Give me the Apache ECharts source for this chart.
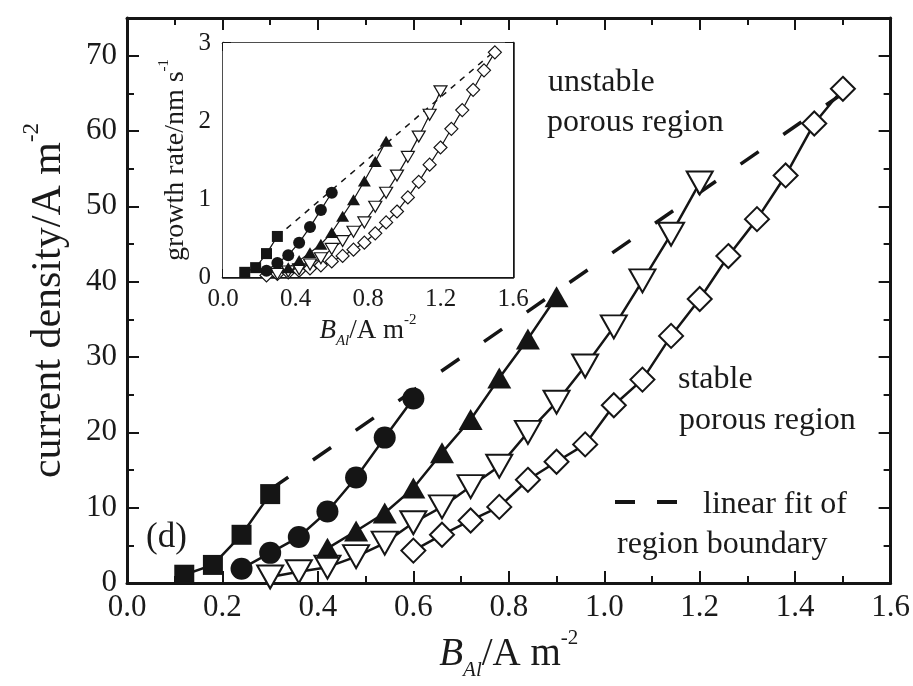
<!DOCTYPE html>
<html>
<head>
<meta charset="utf-8">
<title>current density vs B_Al</title>
<script src="https://cdn.jsdelivr.net/npm/echarts@6/dist/echarts.min.js"></script>
<style>
  html, body { margin: 0; padding: 0; background: #fff; }
  #chart { width: 913px; height: 686px; }
</style>
</head>
<body>
<div id="chart"></div>
<script>
// main panel: B_Al (A m^-2) vs current density (A m^-2)
const squareX = [0.12, 0.18, 0.24, 0.30];
const squareY = [1.1, 2.4, 6.4, 11.8];
const circleX = [0.24, 0.30, 0.36, 0.42, 0.48, 0.54, 0.60];
const circleY = [1.9, 4.0, 6.1, 9.5, 14.0, 19.3, 24.5];
const triUpX = [0.42, 0.48, 0.54, 0.60, 0.66, 0.72, 0.78, 0.84, 0.90];
const triUpY = [4.6, 6.9, 9.3, 12.6, 17.3, 21.7, 27.2, 32.4, 38.0];
const triDownX = [0.30, 0.36, 0.42, 0.48, 0.54, 0.60, 0.66, 0.72, 0.78, 0.84, 0.90, 0.96, 1.02, 1.08, 1.14, 1.20];
const triDownY = [0.8, 1.5, 2.1, 3.5, 5.3, 8.0, 10.1, 12.8, 15.5, 20.0, 24.0, 28.8, 34.0, 40.1, 46.3, 53.1];
const diamondX = [0.60, 0.66, 0.72, 0.78, 0.84, 0.90, 0.96, 1.02, 1.08, 1.14, 1.20, 1.26, 1.32, 1.38, 1.44, 1.50];
const diamondY = [4.3, 6.4, 8.3, 10.1, 13.7, 16.1, 18.4, 23.6, 27.0, 32.8, 37.7, 43.4, 48.3, 54.1, 61.0, 65.6];
const fitX = [0.30, 1.50];
const fitY = [12.4, 65.0];

// inset: B_Al vs growth rate (nm s^-1)
const inSquareX = [0.12, 0.18, 0.24, 0.30];
const inSquareY = [0.06, 0.12, 0.30, 0.52];
const inCircleX = [0.24, 0.30, 0.36, 0.42, 0.48, 0.54, 0.60];
const inCircleY = [0.08, 0.18, 0.28, 0.44, 0.64, 0.86, 1.08];
const inTriUpX = [0.36, 0.42, 0.48, 0.54, 0.60, 0.66, 0.72, 0.78, 0.84, 0.90];
const inTriUpY = [0.12, 0.21, 0.31, 0.42, 0.57, 0.78, 0.99, 1.23, 1.48, 1.74];
const inTriDownX = [0.30, 0.36, 0.42, 0.48, 0.54, 0.60, 0.66, 0.72, 0.78, 0.84, 0.90, 0.96, 1.02, 1.08, 1.14, 1.20];
const inTriDownY = [0.04, 0.07, 0.10, 0.16, 0.24, 0.36, 0.46, 0.58, 0.70, 0.90, 1.08, 1.30, 1.54, 1.80, 2.08, 2.38];
const inDiamondX = [0.24, 0.30, 0.36, 0.42, 0.48, 0.54, 0.60, 0.66, 0.72, 0.78, 0.84, 0.90, 0.96, 1.02, 1.08, 1.14, 1.20, 1.26, 1.32, 1.38, 1.44, 1.50];
const inDiamondY = [0.02, 0.04, 0.06, 0.08, 0.11, 0.15, 0.20, 0.27, 0.35, 0.44, 0.56, 0.70, 0.84, 1.02, 1.22, 1.44, 1.66, 1.90, 2.14, 2.40, 2.65, 2.88];
const inFitX = [0.30, 1.50];
const inFitY = [0.52, 2.90];

const ink = '#151515';
const serif = '"Liberation Serif", "DejaVu Serif", serif';

const pairs = (xs, ys) => xs.map((x, i) => [x, ys[i]]);

function axis(opt) {
  const big = opt.big;
  return {
    type: 'value',
    gridIndex: opt.grid,
    position: opt.position,
    min: opt.min,
    max: opt.max,
    interval: opt.interval,
    axisLine: { show: true, onZero: false, lineStyle: { color: ink, width: big ? 3 : 2.5 } },
    axisTick: { show: true, inside: true, length: big ? 12 : 8, lineStyle: { color: ink, width: 2 } },
    minorTick: { show: true, splitNumber: 2, length: big ? 7 : 5, lineStyle: { color: ink, width: 2 } },
    splitLine: { show: false },
    axisLabel: {
      show: !!opt.labels,
      fontFamily: serif,
      fontSize: big ? 31 : 25,
      color: '#1a1a1a',
      margin: opt.margin || 8,
      formatter: opt.labels,
    },
    name: opt.name,
    nameLocation: 'middle',
    nameGap: opt.nameGap,
    nameRotate: opt.nameRotate,
    nameTextStyle: opt.nameStyle,
  };
}

function richName(size) {
  const sub = Math.round(size * 0.55);
  const lh = Math.round(size * 1.35);
  return {
    rich: {
      i: { fontFamily: serif, fontStyle: 'italic', fontSize: size, color: '#1a1a1a', lineHeight: lh, verticalAlign: 'middle' },
      n: { fontFamily: serif, fontSize: size, color: '#1a1a1a', lineHeight: lh, verticalAlign: 'middle' },
      s: { fontFamily: serif, fontStyle: 'italic', fontSize: sub, color: '#1a1a1a', lineHeight: lh, verticalAlign: 'bottom' },
      p: { fontFamily: serif, fontSize: sub, color: '#1a1a1a', lineHeight: lh, verticalAlign: 'top' },
    },
  };
}

const fix1 = (v) => v.toFixed(1);
const tens = (v) => (Math.abs(v % 10) < 1e-6 ? String(v) : '');
const ints = (v) => (Math.abs(v - Math.round(v)) < 1e-6 ? String(Math.round(v)) : '');

function dataSeries(data, sym, size, filled, xi, yi, extra) {
  return Object.assign({
    type: 'line',
    xAxisIndex: xi,
    yAxisIndex: yi,
    data: data,
    symbol: sym,
    symbolSize: size,
    showAllSymbol: true,
    lineStyle: { color: ink, width: xi === 0 ? 2.5 : 1.2 },
    itemStyle: filled
      ? { color: ink, borderColor: ink, borderWidth: 0 }
      : { color: '#fff', borderColor: ink, borderWidth: xi === 0 ? 2 : 1.2 },
    emphasis: { disabled: true },
    silent: true,
  }, extra || {});
}

const chart = echarts.init(document.getElementById('chart'));

const note = (text, x, y, size) => ({
  type: 'text', x: x, y: y,
  style: { text: text, fontFamily: serif, fontSize: size || 32, fill: '#1a1a1a', verticalAlign: 'middle' },
});

chart.setOption({
  animation: false,
  backgroundColor: '#fff',
  grid: [
    { left: 127, right: 20, top: 18, bottom: 103 },
    { left: 223, top: 43, width: 290, height: 234, show: true, backgroundColor: '#fff', borderWidth: 0, z: 5 },
  ],
  xAxis: [
    axis({ grid: 0, position: 'bottom', min: 0, max: 1.6, interval: 0.2, big: true, labels: fix1, margin: 9,
      name: '{i|B}{s|Al}{n|/A m}{p|-2}', nameGap: 37, nameStyle: richName(39) }),
    axis({ grid: 0, position: 'top', min: 0, max: 1.6, interval: 0.2, big: true }),
    axis({ grid: 1, position: 'bottom', min: 0, max: 1.6, interval: 0.4, labels: fix1, margin: 10,
      name: '{i|B}{s|Al}{n|/A m}{p|-2}', nameGap: 34, nameStyle: richName(27) }),
    axis({ grid: 1, position: 'top', min: 0, max: 1.6, interval: 0.4 }),
  ],
  yAxis: [
    axis({ grid: 0, position: 'left', min: 0, max: 75, interval: 10, big: true, labels: tens, margin: 10,
      name: '{n|current density/A m}{p|-2}', nameGap: 50, nameRotate: 90, nameStyle: richName(42) }),
    axis({ grid: 0, position: 'right', min: 0, max: 75, interval: 10, big: true }),
    axis({ grid: 1, position: 'left', min: 0, max: 3, interval: 1, labels: ints, margin: 12,
      name: '{n|growth rate/nm s}{p|-1}', nameGap: 28, nameRotate: 90, nameStyle: richName(28) }),
    axis({ grid: 1, position: 'right', min: 0, max: 3, interval: 1 }),
  ],
  series: [
    dataSeries(pairs(fitX, fitY), 'none', 0, true, 0, 0,
      { lineStyle: { color: ink, width: 3.5, type: [22, 30] }, z: 1 }),
    dataSeries(pairs(diamondX, diamondY), 'diamond', 24, false, 0, 0),
    dataSeries(pairs(triDownX, triDownY), 'triangle', [26, 23], false, 0, 0, { symbolRotate: 180 }),
    dataSeries(pairs(triUpX, triUpY), 'triangle', [24, 21], true, 0, 0),
    dataSeries(pairs(circleX, circleY), 'circle', 22, true, 0, 0),
    dataSeries(pairs(squareX, squareY), 'rect', 20, true, 0, 0),

    dataSeries(pairs(inFitX, inFitY), 'none', 0, true, 2, 2,
      { lineStyle: { color: ink, width: 1.5, type: [6, 6] }, z: 6 }),
    dataSeries(pairs(inDiamondX, inDiamondY), 'diamond', 13, false, 2, 2, { z: 6 }),
    dataSeries(pairs(inTriDownX, inTriDownY), 'triangle', [13, 11], false, 2, 2, { symbolRotate: 180, z: 6 }),
    dataSeries(pairs(inTriUpX, inTriUpY), 'triangle', [13, 11], true, 2, 2, { z: 6 }),
    dataSeries(pairs(inCircleX, inCircleY), 'circle', 12, true, 2, 2, { z: 6 }),
    dataSeries(pairs(inSquareX, inSquareY), 'rect', 11, true, 2, 2, { z: 6 }),
  ],
  graphic: [
    note('unstable', 548, 83),
    note('porous region', 547, 123),
    note('stable', 678, 380),
    note('porous region', 679, 421),
    note('linear fit of', 703, 505),
    note('region boundary', 617, 545),
    note('(d)', 146, 538, 35),
    { type: 'line', shape: { x1: 615, y1: 502, x2: 677, y2: 502 }, style: { stroke: ink, lineWidth: 4, lineDash: [20, 22] } },
  ],
});
</script>
</body>
</html>
